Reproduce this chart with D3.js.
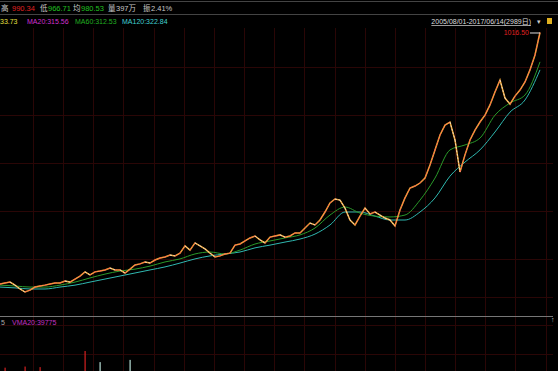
<!DOCTYPE html>
<html>
<head>
<meta charset="utf-8">
<script src="https://cdn.jsdelivr.net/npm/d3@7"></script>
<style>
  html, body { margin: 0; padding: 0; background: #000; }
  svg { display: block; }
  text { font-family: "Liberation Sans", "Noto Sans CJK SC", sans-serif; }
</style>
</head>
<body>
<div id="chart"></div>
<script>
// 收盘价（每点约 1.3 个月）
const closes = [105,109,112,101,87,76,83,94,98,101,105,109,109,116,112,123,134,149,138,149,
  152,156,163,156,156,145,159,174,178,185,181,192,199,203,210,207,217,243,228,254,
  243,232,217,203,207,214,217,246,250,261,272,279,265,254,275,279,283,275,279,290,
  290,308,326,319,337,366,399,413,409,380,337,319,351,380,359,366,355,344,337,315,
  373,417,453,460,471,489,536,591,645,681,692,627,511,573,627,663,692,717,754,801,
  844,779,757,786,808,837,881,935,1016.5];

// 均线（每 3 个点取一个值）
const ma60 = [101,98,94,94,101,112,127,141,152,159,170,185,196,214,221,214,228,250,261,272,
  283,308,355,384,362,351,348,355,409,489,591,609,634,717,761,790,910];
const ma120 = [94,91,87,87,94,101,112,123,134,145,156,167,181,196,207,214,221,236,246,257,
  268,286,319,366,366,351,337,337,366,417,496,547,591,656,728,772,881];
const maStep = 3;

// 成交量（万）
const volIdx = [1, 5, 8, 17, 20, 26];
const volVal = [30, 40, 35, 180, 80, 100];
const volUp  = [true, true, true, true, false, false];

const width = 558, height = 371;
const peakLabel = "1016.50";

const svg = d3.select("#chart").append("svg")
  .attr("width", width).attr("height", height);

svg.append("rect").attr("width", width).attr("height", height).attr("fill", "#000");

const x = d3.scaleLinear().domain([0, closes.length - 1]).range([0, 540]);
const y = d3.scaleLinear().domain([0, 1040]).range([313, 26]);
const yv = d3.scaleLinear().domain([0, 405]).range([371, 326]);

// 网格
const grid = svg.append("g").attr("stroke", "#2a0606").attr("stroke-width", 1);
d3.range(18).forEach(k => {
  const gx = Math.round(33 + 30.15 * k) + 0.5;
  grid.append("line").attr("x1", gx).attr("x2", gx).attr("y1", 28).attr("y2", 371);
});
[67, 115, 163, 211, 259, 297, 325, 354].forEach(gy => {
  grid.append("line").attr("x1", 0).attr("x2", 553).attr("y1", gy + 0.5).attr("y2", gy + 0.5);
});

// 顶部分隔线
svg.append("line").attr("x1", 0).attr("x2", width).attr("y1", 1.5).attr("y2", 1.5).attr("stroke", "#444");
svg.append("line").attr("x1", 0).attr("x2", width).attr("y1", 14.5).attr("y2", 14.5).attr("stroke", "#444");
// 量能区分隔线
svg.append("line").attr("x1", 0).attr("x2", 553).attr("y1", 316.5).attr("y2", 316.5).attr("stroke", "#777");

// 均线
const maLine = d3.line()
  .x((d, i) => x(i * maStep))
  .y(d => y(d))
  .curve(d3.curveMonotoneX);

svg.append("path").datum(ma120)
  .attr("d", maLine).attr("fill", "none")
  .attr("stroke", "#2fb8b0").attr("stroke-width", 1);
svg.append("path").datum(ma60)
  .attr("d", maLine).attr("fill", "none")
  .attr("stroke", "#2a9a2a").attr("stroke-width", 1);

// 价格线
const priceLine = d3.line().x((d, i) => x(i)).y(d => y(d));
svg.append("path").datum(closes)
  .attr("d", priceLine).attr("fill", "none")
  .attr("stroke", "#f0a838").attr("stroke-width", 1.5);

svg.append("g").selectAll("line")
  .data(closes.slice(1))
  .join("line")
  .attr("x1", (d, i) => x(i))
  .attr("y1", (d, i) => y(closes[i]))
  .attr("x2", (d, i) => x(i + 1))
  .attr("y2", d => y(d))
  .attr("stroke", (d, i) => d >= closes[i] ? "#ff5050" : "#f4e4dc")
  .attr("stroke-width", 0.8)
  .attr("stroke-dasharray", "2,1.5");

// 最高价标注
const last = closes.length - 1;
svg.append("line")
  .attr("x1", x(last) - 10).attr("x2", x(last))
  .attr("y1", y(closes[last]) + 0.5).attr("y2", y(closes[last]) + 0.5)
  .attr("stroke", "#ddd");
svg.append("text")
  .attr("x", x(last) - 11).attr("y", y(closes[last]) + 3)
  .attr("text-anchor", "end")
  .attr("fill", "#e02020").style("font-size", "7px")
  .text(peakLabel);

// 成交量
svg.append("g").selectAll("rect")
  .data(volVal)
  .join("rect")
  .attr("x", (d, i) => x(volIdx[i]) - 0.5)
  .attr("y", d => yv(d))
  .attr("width", 1.2)
  .attr("height", d => yv(0) - yv(d))
  .attr("fill", (d, i) => volUp[i] ? "#d42020" : "#b8e0d8");

// 顶部行情信息
const row1 = [
  { t: "高", x: 1, c: "#c8c8c8" }, { t: "990.34", x: 12, c: "#e02020" },
  { t: "低", x: 40, c: "#c8c8c8" }, { t: "966.71", x: 48, c: "#20c020" },
  { t: "均", x: 73, c: "#c8c8c8" }, { t: "980.53", x: 81, c: "#20c020" },
  { t: "量", x: 108, c: "#c8c8c8" }, { t: "397万", x: 116, c: "#c8c8c8" },
  { t: "振", x: 143, c: "#c8c8c8" }, { t: "2.41%", x: 151, c: "#c8c8c8" }
];
svg.append("g").selectAll("text").data(row1).join("text")
  .attr("x", d => d.x).attr("y", 11)
  .attr("fill", d => d.c).style("font-size", "7.5px")
  .text(d => d.t);

const row2 = [
  { t: "33.73", x: 0, c: "#e8e040" },
  { t: "MA20:315.56", x: 27, c: "#d030d0" },
  { t: "MA60:312.53", x: 75, c: "#20b020" },
  { t: "MA120:322.84", x: 122, c: "#40d0d0" }
];
svg.append("g").selectAll("text").data(row2).join("text")
  .attr("x", d => d.x).attr("y", 24)
  .attr("fill", d => d.c).style("font-size", "7px")
  .text(d => d.t);

svg.append("text")
  .attr("x", 531).attr("y", 24).attr("text-anchor", "end")
  .attr("fill", "#ddd").style("font-size", "7px")
  .style("text-decoration", "underline")
  .text("2005/08/01-2017/06/14(2989日)");
svg.append("text").attr("x", 537).attr("y", 24)
  .attr("fill", "#ccc").style("font-size", "7px").text("▾");
svg.append("rect").attr("x", 547).attr("y", 18).attr("width", 5).attr("height", 6).attr("fill", "#e0b020");

// 量能指标
svg.append("text").attr("x", 1).attr("y", 325).attr("fill", "#aaa")
  .style("font-size", "7px").text("5");
svg.append("text").attr("x", 12).attr("y", 325).attr("fill", "#c030c0")
  .style("font-size", "7px").text("VMA20:39775");
svg.append("text").attr("x", 551).attr("y", 322).attr("fill", "#ccc")
  .style("font-size", "7px").text("↑");
</script>
</body>
</html>
